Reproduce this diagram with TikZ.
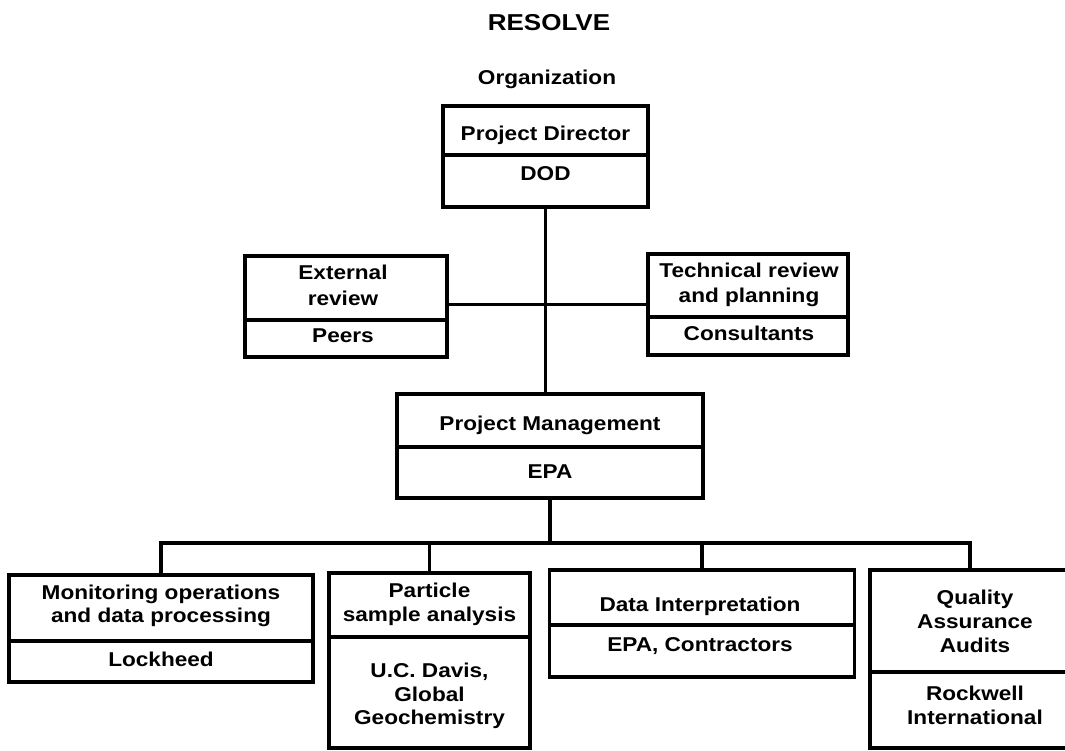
\documentclass[tikz,border=0pt]{standalone}
\usepackage{fontspec}
\newfontfamily\chartfont{Liberation Sans}[FakeStretch=1.13]
\begin{document}
\begin{tikzpicture}[x=1pt,y=-1pt,
  box/.style={draw, line width=3.3pt, rectangle, inner sep=0pt, outer sep=0pt},
  link/.style={line width=3.3pt},
  txt/.style={inner sep=0pt, outer sep=0pt, font=\chartfont\bfseries\fontsize{20}{24}\selectfont, text height=14.3pt, text depth=0pt},
  ttl/.style={inner sep=0pt, outer sep=0pt, font=\chartfont\bfseries\fontsize{23}{28}\selectfont, text height=16.5pt, text depth=0pt}
]
\useasboundingbox[fill=white] (0,0) rectangle (1065,750);

% titles
\node[ttl] (title) at (549,22.5) {RESOLVE};
\node[txt] (subtitle) at (547,77) {Organization};

% boxes
\node[box, minimum width=205pt, minimum height=101pt] (pd)   at (545.5,156.5) {};
\node[box, minimum width=202pt, minimum height=101pt] (ext)  at (346,306.5) {};
\node[box, minimum width=200pt, minimum height=101pt] (tech) at (748,304.5) {};
\node[box, minimum width=306pt, minimum height=104pt] (pm)   at (550,446) {};
\node[box, minimum width=304pt, minimum height=107pt] (mon)  at (161,628.5) {};
\node[box, minimum width=201pt, minimum height=175pt] (part) at (429.5,660.5) {};
\node[box, minimum width=305pt, minimum height=107pt] (di)   at (702,623.5) {};
\node[box, minimum width=200pt, minimum height=178pt] (qa)   at (970,659) {};

% dividers
\draw[link] (pd.west |- 0,155) -- (pd.east |- 0,155);
\draw[link] (ext.west |- 0,320) -- (ext.east |- 0,320);
\draw[link] (tech.west |- 0,317) -- (tech.east |- 0,317);
\draw[link] (pm.west |- 0,447) -- (pm.east |- 0,447);
\draw[link] (mon.west |- 0,641) -- (mon.east |- 0,641);
\draw[link] (part.west |- 0,637) -- (part.east |- 0,637);
\draw[link] (di.west |- 0,625) -- (di.east |- 0,625);
\draw[link] (qa.west |- 0,672) -- (qa.east |- 0,672);

% texts
\node[txt] (pd1) at (545.5,133) {Project Director};
\node[txt] (pd2) at (545.5,173.5) {DOD};

\node[txt] (ext1) at (343,272) {External};
\node[txt] (ext2) at (343,298) {review};
\node[txt] (ext3) at (343,335) {Peers};

\node[txt] (tech1) at (749,270) {Technical review};
\node[txt] (tech2) at (749,295) {and planning};
\node[txt] (tech3) at (749,333.5) {Consultants};

\node[txt] (pm1) at (550,423) {Project Management};
\node[txt] (pm2) at (550,471) {EPA};

\node[txt] (mon1) at (161,592.5) {Monitoring operations};
\node[txt] (mon2) at (161,615) {and data processing};
\node[txt] (mon3) at (161,659.5) {Lockheed};

\node[txt] (part1) at (429.5,590) {Particle};
\node[txt] (part2) at (429.5,614.5) {sample analysis};
\node[txt] (part3) at (429.5,670) {U.C. Davis,};
\node[txt] (part4) at (429.5,694.5) {Global};
\node[txt] (part5) at (429.5,717.5) {Geochemistry};

\node[txt] (di1) at (700,604) {Data Interpretation};
\node[txt] (di2) at (700,644.5) {EPA, Contractors};

\node[txt] (qa1) at (975,597) {Quality};
\node[txt] (qa2) at (975,621) {Assurance};
\node[txt] (qa3) at (975,645) {Audits};
\node[txt] (qa4) at (975,693.5) {Rockwell};
\node[txt] (qa5) at (975,717.5) {International};

% connectors
\draw[link] (pd.south) -- (pd.south |- pm.north);
\draw[link] (ext.east |- tech.west) -- (tech.west);
\coordinate (bus) at (550,543);
\draw[link] (pm.south) -- (pm.south |- bus);
\draw[link, line join=miter] (mon.north) -- (mon.north |- bus) -- (qa.north |- bus) -- (qa.north);
\draw[link] (part.north |- bus) -- (part.north);
\draw[link] (di.north |- bus) -- (di.north);
\end{tikzpicture}
\end{document}
